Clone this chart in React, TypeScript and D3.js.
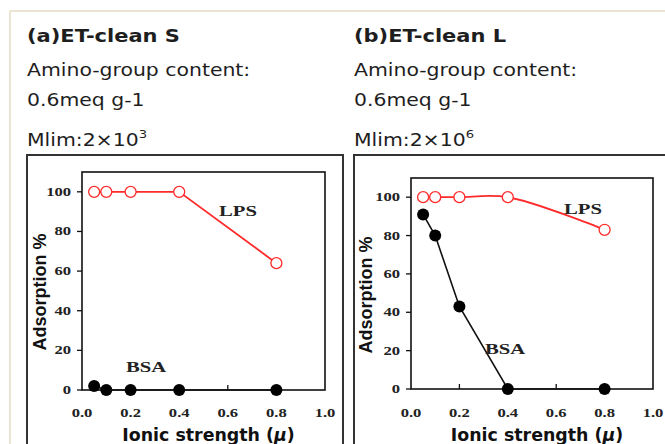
import React from 'react';
import * as d3 from 'd3';

const ionicStrength = [0.05, 0.1, 0.2, 0.4, 0.8];
const lpsA = [100, 100, 100, 100, 64];
const bsaA = [2, 0, 0, 0, 0];
const lpsB = [100, 100, 100, 100, 83];
const bsaB = [91, 80, 43, 0, 0];
const xTicks = [0, 0.2, 0.4, 0.6, 0.8, 1.0];
const yTicks = [0, 20, 40, 60, 80, 100];
const titles = ['(a)ET-clean S', '(b)ET-clean L'];
const aminoLine = 'Amino-group content:';
const contentLine = '0.6meq g-1';
const mlimExponents = ['3', '6'];
const seriesNames = ['LPS', 'BSA'];
const xLabel = 'Ionic strength (';
const yLabel = 'Adsorption %';

const RED = '#ff2b2b';
const TEXT = '#1e1e1e';
const SANS = '"DejaVu Sans", Verdana, sans-serif';
const SERIF = '"Liberation Serif", "Times New Roman", serif';

type PanelCfg = {
  boxX: number;
  boxW: number;
  left: number;
  right: number;
  top: number;
  bottom: number;
  lps: number[];
  bsa: number[];
  smoothLps: boolean;
  lpsLabel: [number, number];
  bsaLabel: [number, number];
  yLabelPos: [number, number];
  title: string;
  exp: string;
};

const panels: PanelCfg[] = [
  {
    boxX: 27, boxW: 316, left: 82, right: 325, top: 172, bottom: 390,
    lps: lpsA, bsa: bsaA, smoothLps: false,
    lpsLabel: [238, 216], bsaLabel: [146, 372], yLabelPos: [46, 292],
    title: titles[0], exp: mlimExponents[0],
  },
  {
    boxX: 354, boxW: 330, left: 411, right: 653, top: 178, bottom: 389,
    lps: lpsB, bsa: bsaB, smoothLps: true,
    lpsLabel: [583, 214], bsaLabel: [505, 354], yLabelPos: [372, 295],
    title: titles[1], exp: mlimExponents[1],
  },
];

const SX = 1.2;

function SerifText({ x, y, text, size, anchor = 'middle' }: { x: number; y: number; text: string; size: number; anchor?: string }) {
  return (
    <text
      transform={`translate(${x},${y}) scale(1.38,1)`}
      textAnchor={anchor as any}
      fontFamily={SERIF}
      fontWeight="bold"
      fontSize={size}
      fill="#222"
    >
      {text}
    </text>
  );
}

function Panel({ cfg }: { cfg: PanelCfg }) {
  const x = d3.scaleLinear().domain([0, 1]).range([cfg.left, cfg.right]);
  const y = d3.scaleLinear().domain([0, 110]).range([cfg.bottom, cfg.top]);
  const lpsPts = ionicStrength.map((v, i) => [x(v), y(cfg.lps[i])] as [number, number]);
  const bsaPts = ionicStrength.map((v, i) => [x(v), y(cfg.bsa[i])] as [number, number]);
  const lpsLine = d3.line().curve(cfg.smoothLps ? d3.curveCatmullRom.alpha(0.5) : d3.curveLinear)(lpsPts) || '';
  const bsaLine = d3.line()(bsaPts) || '';
  const hx = cfg.boxX;
  return (
    <g>
      {/* header */}
      <g transform={`translate(${hx},0) scale(${SX},1)`} fill={TEXT} fontFamily={SANS}>
        <text x={0} y={42} fontSize={17.5} fontWeight="bold">{cfg.title}</text>
        <text x={0} y={76} fontSize={17}>{aminoLine}</text>
        <text x={0} y={106} fontSize={17}>{contentLine}</text>
        <text x={0} y={146} fontSize={17}>
          Mlim:2×10
          <tspan dy={-8} fontSize={11}>{cfg.exp}</tspan>
        </text>
      </g>
      {/* outer box */}
      <rect x={cfg.boxX} y={155} width={cfg.boxW} height={320} fill="none" stroke="#333" strokeWidth={2} />
      {/* plot frame */}
      <rect x={cfg.left} y={cfg.top} width={cfg.right - cfg.left} height={cfg.bottom - cfg.top} fill="none" stroke="#111" strokeWidth={1.6} />
      {/* y ticks */}
      {yTicks.map((t) => (
        <g key={'y' + t}>
          <line x1={cfg.left - 5} x2={cfg.left} y1={y(t)} y2={y(t)} stroke="#111" strokeWidth={1.3} />
          <SerifText x={cfg.left - 11} y={y(t) + 4} text={String(t)} size={12} anchor="end" />
        </g>
      ))}
      {/* x ticks */}
      {xTicks.map((t) => (
        <g key={'x' + t}>
          {t > 0 && t < 1 && (
            <line x1={x(t)} x2={x(t)} y1={cfg.bottom} y2={cfg.bottom - 5} stroke="#111" strokeWidth={1.3} />
          )}
          <SerifText x={x(t)} y={417} text={d3.format('.1f')(t)} size={12} />
        </g>
      ))}
      {/* series */}
      <path d={bsaLine} fill="none" stroke="#111" strokeWidth={1.6} />
      {bsaPts.map((p, i) => (
        <circle key={'b' + i} cx={p[0]} cy={p[1]} r={6} fill="#000" />
      ))}
      <path d={lpsLine} fill="none" stroke={RED} strokeWidth={1.8} />
      {lpsPts.map((p, i) => (
        <circle key={'l' + i} cx={p[0]} cy={p[1]} r={5.5} fill="#fff" stroke={RED} strokeWidth={1.3} />
      ))}
      <SerifText x={cfg.lpsLabel[0]} y={cfg.lpsLabel[1]} text={seriesNames[0]} size={15} />
      <SerifText x={cfg.bsaLabel[0]} y={cfg.bsaLabel[1]} text={seriesNames[1]} size={15} />
      {/* axis labels */}
      <text
        transform={`translate(${cfg.yLabelPos[0]},${cfg.yLabelPos[1]}) rotate(-90)`}
        textAnchor="middle"
        fontFamily='"Liberation Sans", Arial, sans-serif'
        fontWeight="bold"
        fontSize={18}
        fill="#111"
      >
        {yLabel}
      </text>
      <text
        x={(cfg.left + cfg.right) / 2 + 5}
        y={441}
        textAnchor="middle"
        fontFamily={SANS}
        fontWeight="bold"
        fontSize={17.4}
        fill="#111"
      >
        {xLabel}
        <tspan fontStyle="italic">μ</tspan>)
      </text>
    </g>
  );
}

export default function App() {
  return (
    <svg
      width={665}
      height={444}
      viewBox="0 0 665 444"
      style={{ position: 'absolute', left: 0, top: 0, background: '#fff' }}
    >
      <rect x={0} y={0} width={665} height={444} fill="#fff" />
      <line x1={10} x2={10} y1={11} y2={444} stroke="#ebe4d2" strokeWidth={2} />
      <line x1={10} x2={665} y1={11} y2={11} stroke="#ebe4d2" strokeWidth={2} />
      {panels.map((p, i) => (
        <Panel key={i} cfg={p} />
      ))}
    </svg>
  );
}
